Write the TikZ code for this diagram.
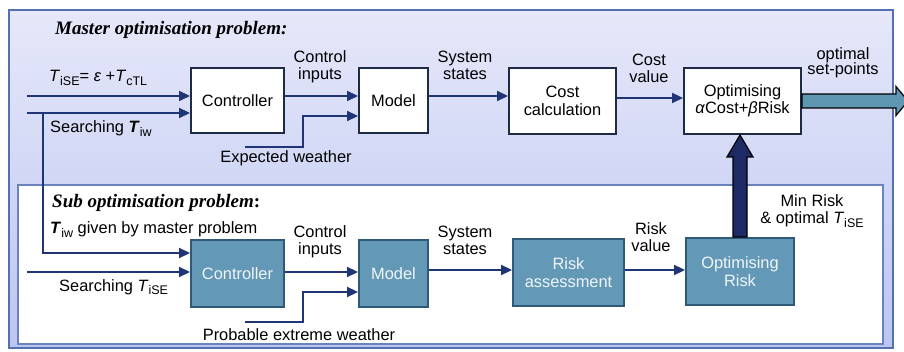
\documentclass[tikz,border=0pt]{standalone}
\usepackage{fontspec}
\setmainfont{Liberation Sans}
\newfontfamily\titleFont{Liberation Serif}
\usetikzlibrary{arrows.meta,calc}

\definecolor{bgTop}{HTML}{E6E8F9}
\definecolor{bgBottom}{HTML}{BCC5F2}
\definecolor{outerEdge}{HTML}{5470B0}
\definecolor{innerEdge}{HTML}{6A82BE}
\definecolor{boxEdge}{HTML}{1E2B45}
\definecolor{subFill}{HTML}{6399B6}
\definecolor{subEdge}{HTML}{2E5A77}
\definecolor{subText}{HTML}{F0F5F8}
\definecolor{flowBlue}{HTML}{1F3576}
\definecolor{outTeal}{HTML}{5F97B3}
\definecolor{upNavy}{HTML}{1E2A66}

\newcommand\labelSize{\fontsize{16.4}{17.5}\selectfont}
\newcommand\lowIdx[1]{\raisebox{-3.5pt}{\fontsize{12.5}{12.5}\selectfont #1}}

\tikzset{
  masterBox/.style={draw=boxEdge, line width=2pt, fill=white, align=center, font=\labelSize, inner sep=0pt},
  subBox/.style={draw=subEdge, line width=2pt, fill=subFill, text=subText, align=center, font=\labelSize, inner sep=0pt},
  flow/.style={draw=flowBlue, line width=2.2pt, -{Triangle[length=11pt,width=10pt]}},
  textTag/.style={align=center, font=\labelSize, inner sep=0pt},
  titleTag/.style={anchor=base west, inner sep=0pt, font=\titleFont\fontsize{19}{22}\selectfont},
  bigArrow/.style={draw=black, line width=1.2pt}
}

\begin{document}
\begin{tikzpicture}[x=1pt, y=-1pt]
    % variables
    \def\boxHeight{65pt}
    \def\subHeight{67pt}

    % Frames
    \useasboundingbox (0,0) rectangle (904,352);
    \shade[top color=bgTop, bottom color=bgBottom] (9,10) rectangle (893,348);
    \draw[outerEdge, line width=2.5pt] (9,10) rectangle (893,348);
    \draw[innerEdge, line width=2pt, fill=white] (18,185) rectangle (883,344);

    % Titles
    \node[titleTag] (titleM) at (55,35) {\textbf{\textit{Master optimisation problem:}}};
    \node[titleTag] (titleS) at (52,208) {\textbf{\textit{Sub optimisation problem}}\textbf{:}};

    % Master boxes
    \node[masterBox, minimum width=93pt, minimum height=\boxHeight] (ctrlM) at (237.5,100.5) {Controller};
    \node[masterBox, minimum width=69pt, minimum height=\boxHeight] (modelM) at (393.5,100.5) {Model};
    \node[masterBox, minimum width=107pt, minimum height=66pt] (costM) at (562.5,101) {Cost\\calculation};
    \node[masterBox, minimum width=117pt, minimum height=66pt] (optM) at (742.5,101) {Optimising\\\textit{α}Cost+\textit{β}Risk};

    % Sub boxes
    \node[subBox, minimum width=93pt, minimum height=\subHeight] (ctrlS) at (237.5,273.5) {Controller};
    \node[subBox, minimum width=69pt, minimum height=\subHeight] (modelS) at (393.5,273.5) {Model};
    \node[subBox, minimum width=111pt, minimum height=\subHeight] (riskS) at (568.5,272.5) {Risk\\assessment};
    \node[subBox, minimum width=108pt, minimum height=\subHeight] (optS) at (740,271.5) {Optimising\\Risk};

    % Inputs
    \coordinate (inEps) at (27,96);
    \coordinate (inIw) at (27,113);
    \coordinate (split) at (43,113);
    \coordinate (inSE) at (27,272);
    \draw[flow] (inEps) -- (inEps -| ctrlM.west);
    \draw[flow] (inIw) -- (inIw -| ctrlM.west);
    \draw[flow] (split) -- (split |- 0,253) -- (ctrlS.west |- 0,253);
    \draw[flow] (inSE) -- (inSE -| ctrlS.west);

    % Master chain
    \draw[flow] (ctrlM.east |- 0,96) -- (modelM.west |- 0,96);
    \draw[flow] (modelM.east |- 0,96) -- (costM.west |- 0,96);
    \draw[flow] (costM.east |- 0,98) -- (optM.west |- 0,98);
    \coordinate (wExp) at (245,147);
    \draw[flow] (wExp) -| (303,116) -- (modelM.west |- 0,116);

    % Sub chain
    \draw[flow] (ctrlS.east |- 0,272) -- (modelS.west |- 0,272);
    \draw[flow] (modelS.east |- 0,270) -- (riskS.west |- 0,270);
    \draw[flow] (riskS.east |- 0,270) -- (optS.west |- 0,270);
    \coordinate (wProb) at (245,322);
    \draw[flow] (wProb) -| (303,292) -- (modelS.west |- 0,292);

    % Big arrows
    \draw[bigArrow, fill=outTeal] ($(optM.east)+(0,-7)$) -- ++(94,0) -- ++(0,-7.5) -- ++(12,14.5) -- ++(-12,14.5) -- ++(0,-7.5) -- ($(optM.east)+(0,7)$) -- cycle;
    \draw[bigArrow, fill=upNavy] ($(optS.north)+(-7,0)$) -- ($(optS.north |- optM.south)+(-7,22)$) -- ++(-6,0) -- (optS.north |- optM.south) -- ++(13,22) -- ++(-6,0) -- ($(optS.north)+(7,0)$) -- cycle;

    % Labels
    \node[textTag, anchor=base west] (lblEps) at (49,82) {\textit{T}\lowIdx{iSE}= \textit{ε} +\textit{T}\lowIdx{cTL}};
    \node[textTag, anchor=base west] (lblIw) at (50,133) {Searching \textbf{\textit{T}}\lowIdx{iw}};
    \node[textTag, anchor=base] (lblCtrlM) at (320,80) {Control\\inputs};
    \node[textTag, anchor=base] (lblModelM) at (465,80) {System\\states};
    \node[textTag, anchor=base] (lblCostM) at (649,83) {Cost\\value};
    \node[textTag, anchor=base] (lblOut) at (843,75) {optimal\\[-2.5pt]set-points};
    \node[textTag, anchor=base] (lblExp) at (286,163) {Expected weather};

    \node[textTag, anchor=base west] (lblGiven) at (50,234) {\textbf{\textit{T}}\lowIdx{iw} given by master problem};
    \node[textTag, anchor=base west] (lblSE) at (59,291) {Searching \textit{T}\lowIdx{iSE}};
    \node[textTag, anchor=base] (lblCtrlS) at (320,255) {Control\\inputs};
    \node[textTag, anchor=base] (lblModelS) at (465,255) {System\\states};
    \node[textTag, anchor=base] (lblRiskS) at (651,252) {Risk\\value};
    \node[textTag, anchor=base] (lblMin) at (812,224) {Min Risk\\\& optimal \textit{T}\lowIdx{iSE}};
    \node[textTag, anchor=base] (lblProb) at (299,340) {Probable extreme weather};
\end{tikzpicture}
\end{document}
